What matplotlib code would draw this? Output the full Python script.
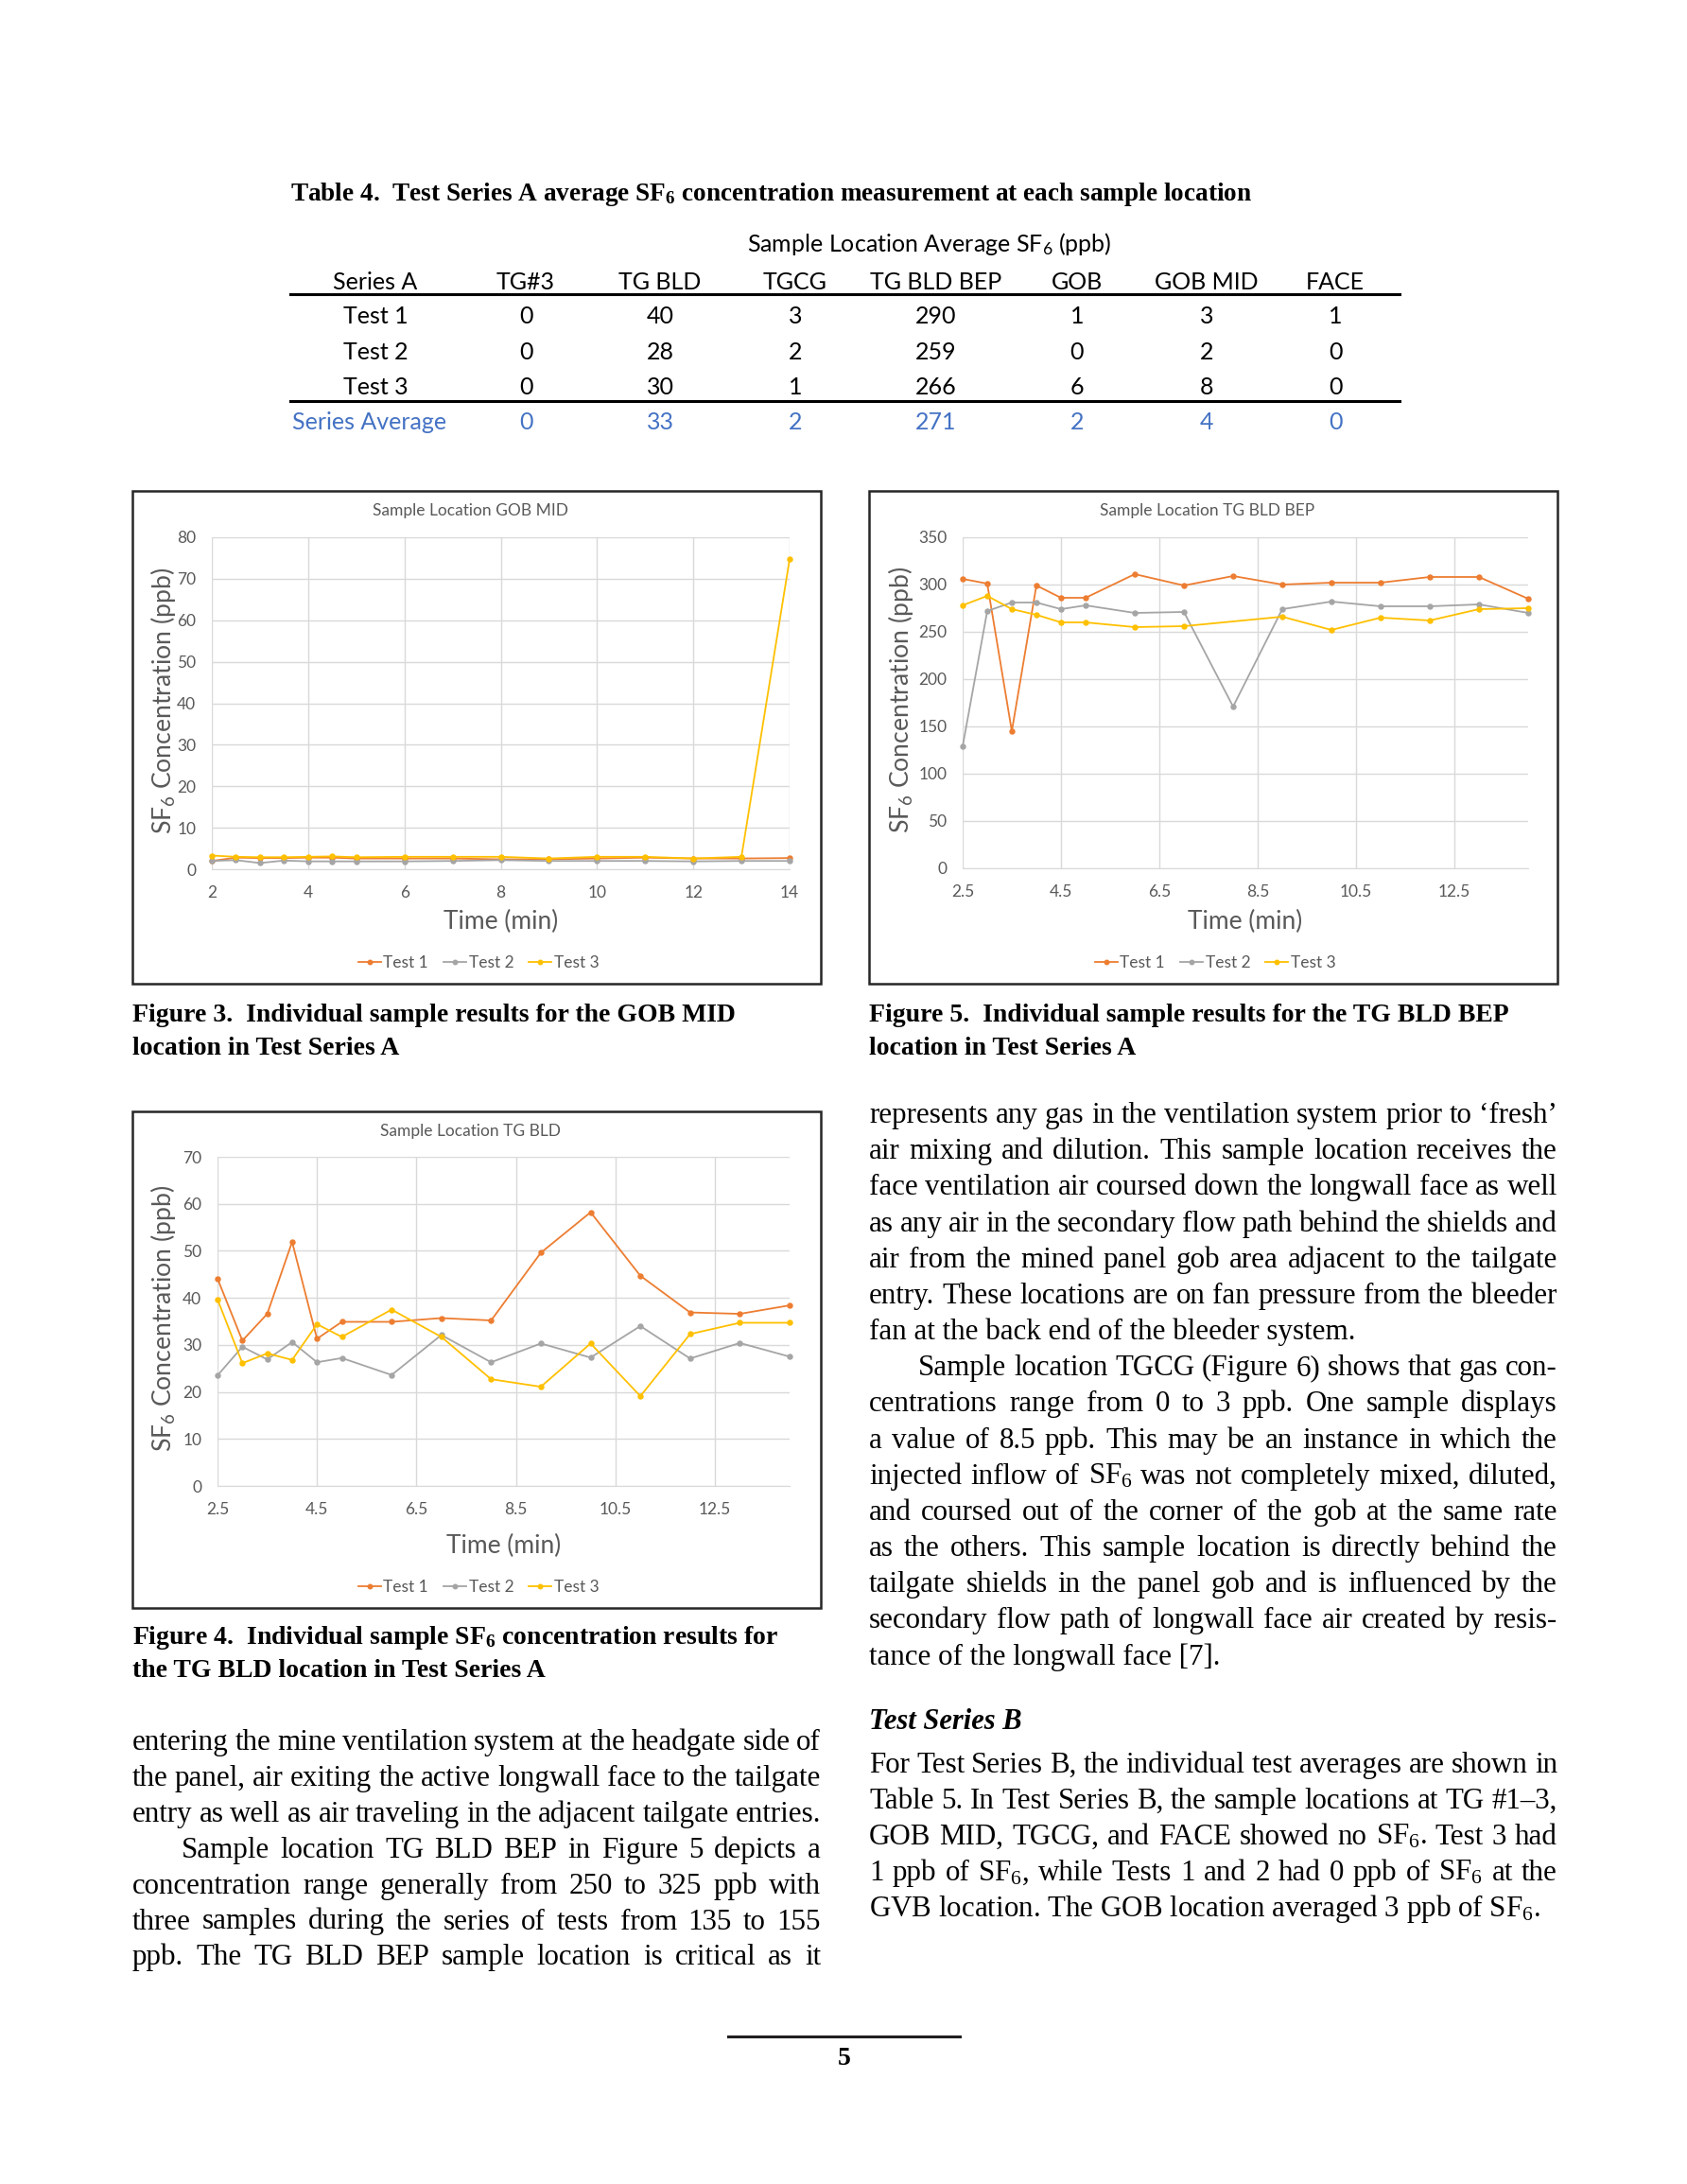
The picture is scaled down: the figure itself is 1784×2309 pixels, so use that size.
import matplotlib
matplotlib.use('Agg')
import matplotlib.pyplot as plt
from matplotlib.lines import Line2D
from matplotlib.patches import Rectangle

plt.rcParams['mathtext.fontset'] = 'custom'
plt.rcParams['mathtext.rm'] = 'Liberation Serif'

W, H = 1784, 2309
SERIF = 'Liberation Serif'
SANS = 'Lato'
GREY = '#595959'
C1, C2, C3 = '#ED7D31', '#A5A5A5', '#FFC000'

# ---- table data ----
tbl_cols = ['Series A', 'TG#3', 'TG BLD', 'TGCG', 'TG BLD BEP', 'GOB', 'GOB MID', 'FACE']
tbl_rows = ['Test 1', 'Test 2', 'Test 3']
tbl_vals = [[0, 40, 3, 290, 1, 3, 1],
            [0, 28, 2, 259, 0, 2, 0],
            [0, 30, 1, 266, 6, 8, 0]]
tbl_avg = [0, 33, 2, 271, 2, 4, 0]

# ---- GOB MID (Figure 3) ----
gob_x = [2, 2.5, 3, 3.5, 4, 4.5, 5, 6, 7, 8, 9, 10, 11, 12, 13, 14]
gob_t1 = [2.0, 2.8, 2.7, 2.7, 2.8, 2.8, 2.6, 2.6, 2.6, 2.4, 2.4, 2.6, 2.8, 2.6, 2.6, 2.7]
gob_t2 = [2.0, 2.2, 1.5, 2.1, 1.9, 1.9, 1.9, 1.9, 2.0, 2.2, 2.0, 2.0, 2.0, 1.9, 2.0, 2.0]
gob_t3 = [3.3, 3.0, 2.9, 2.9, 3.0, 3.1, 2.9, 3.0, 3.0, 3.0, 2.6, 3.0, 3.0, 2.6, 3.0, 74.7]

# ---- TG BLD BEP (Figure 5) ----
bep_x = [2.5, 3, 3.5, 4, 4.5, 5, 6, 7, 8, 9, 10, 11, 12, 13, 14]
bep_t1 = [306, 301, 145, 299, 286, 286, 311, 299, 309, 300, 302, 302, 308, 308, 285]
bep_t2 = [129, 272, 281, 281, 274, 278, 270, 271, 171, 274, 282, 277, 277, 279, 270]
bep_t3_x = [2.5, 3, 3.5, 4, 4.5, 5, 6, 7, 9, 10, 11, 12, 13, 14]
bep_t3 = [278, 288, 274, 268, 260, 260, 255, 256, 266, 252, 265, 262, 274, 275]

# ---- TG BLD (Figure 4) ----
bld_x = [2.5, 3, 3.5, 4, 4.5, 5, 6, 7, 8, 9, 10, 11, 12, 13, 14]
bld_t1 = [44.1, 30.9, 36.6, 51.9, 31.3, 34.9, 34.9, 35.7, 35.2, 49.6, 58.2, 44.7, 36.9, 36.6, 38.4]
bld_t2 = [23.5, 29.6, 26.9, 30.6, 26.3, 27.2, 23.6, 32.1, 26.3, 30.3, 27.3, 34.0, 27.1, 30.4, 27.5]
bld_t3 = [39.7, 26.1, 28.2, 26.8, 34.4, 31.7, 37.5, 31.7, 22.7, 21.1, 30.3, 19.1, 32.3, 34.7, 34.7]

fig = plt.figure(figsize=(W / 100, H / 100), dpi=100)
renderer = fig.canvas.get_renderer()


def fx(x):
    return x / W


def fy(y):
    return 1 - y / H


def txt(x, y, s, **kw):
    return fig.text(fx(x), fy(y), s, **kw)


def hline(x0, x1, y, lw=2.0, color='black'):
    fig.add_artist(Line2D([fx(x0), fx(x1)], [fy(y), fy(y)], lw=lw, color=color))


def justify(x0, x1, y, line, **kw):
    words = line.split()
    objs = [txt(x0, y, w, va='baseline', **kw) for w in words]
    widths = [o.get_window_extent(renderer).width for o in objs]
    gap = (x1 - x0 - sum(widths)) / max(len(words) - 1, 1)
    x = x0
    for o, w in zip(objs, widths):
        o.set_x(fx(x))
        x += w + gap


def paragraph(x0, x1, y0, step, lines, **kw):
    # lines: (text, indent, justified)
    for i, (s, ind, jus) in enumerate(lines):
        y = y0 + i * step
        if jus:
            justify(x0 + ind, x1, y, s, **kw)
        else:
            txt(x0 + ind, y, s, va='baseline', **kw)


# ---------------- table ----------------
txt(307, 212, r'Table 4.  Test Series A average SF$\mathregular{_6}$ concentration measurement at each sample location',
    family=SERIF, weight='bold', fontsize=19.6, va='baseline')
TFS = 18
txt(983, 258, r'Sample Location Average SF$\mathregular{_6}$ (ppb)', family=SANS, fontsize=TFS,
    ha='center', va='center')
col_x = [397, 556, 698, 841, 990, 1139, 1276, 1412]
for cx, c in zip(col_x, tbl_cols):
    txt(cx, 298, c, family=SANS, fontsize=TFS, ha='center', va='center')
hline(307, 1480, 311, lw=2.2)
for r, (name, vals) in enumerate(zip(tbl_rows, tbl_vals)):
    yy = 335 + r * 37
    txt(col_x[0], yy, name, family=SANS, fontsize=TFS, ha='center', va='center')
    for cx, v in zip(col_x[1:], vals):
        txt(cx, yy, str(v), family=SANS, fontsize=TFS, ha='center', va='center')
hline(307, 1480, 424, lw=2.2)
blue = '#4472C4'
txt(309, 446, 'Series Average', family=SANS, fontsize=TFS, ha='left', va='center', color=blue)
for cx, v in zip(col_x[1:], tbl_avg):
    txt(cx, 446, str(v), family=SANS, fontsize=TFS, ha='center', va='center', color=blue)


# ---------------- charts ----------------
def chart(box, area, title, series, xlim, xticks, xlabels, ylim, yticks):
    bx0, by0, bx1, by1 = box
    fig.add_artist(Rectangle((fx(bx0), fy(by1)), (bx1 - bx0) / W, (by1 - by0) / H,
                             transform=fig.transFigure, fill=False, ec='#262626', lw=1.8))
    px0, py0, px1, py1 = area
    ax = fig.add_axes([fx(px0), fy(py1), (px1 - px0) / W, (py1 - py0) / H])
    for xs, ys, col, lab in series:
        ax.plot(xs, ys, color=col, lw=1.3, marker='o', ms=3.6, label=lab, clip_on=False, zorder=3)
    ax.set_xlim(*xlim)
    ax.set_ylim(*ylim)
    ax.set_xticks(xticks)
    ax.set_xticklabels(xlabels)
    ax.set_yticks(yticks)
    ax.grid(True, color='#D9D9D9', lw=1.0, zorder=0)
    for sp in ['left', 'right', 'top']:
        ax.spines[sp].set_visible(False)
    ax.spines['bottom'].set_color('#D9D9D9')
    ax.tick_params(length=0, labelcolor=GREY, labelsize=12.5, pad=12)
    for lab in ax.get_xticklabels() + ax.get_yticklabels():
        lab.set_family(SANS)
    cx = (bx0 + bx1) / 2
    txt(cx - 6, by0 + 21, title, family=SANS, fontsize=12.5, color=GREY, ha='center', va='center')
    txt((px0 + px1) / 2, by1 - 66, 'Time (min)', family=SANS, fontsize=19, color=GREY,
        ha='center', va='center')
    txt(bx0 + 33, (py0 + py1) / 2 - 3, r'SF$\mathregular{_6}$ Concentration (ppb)', family=SANS,
        fontsize=19.2, color=GREY, rotation=90, ha='center', va='center')
    handles, labels = ax.get_legend_handles_labels()
    fig.legend(handles, labels, loc='center', bbox_to_anchor=(fx(cx + 2), fy(by1 - 22)),
               ncol=3, frameon=False, handlelength=1.4, handletextpad=0.15, columnspacing=0.9,
               prop={'family': SANS, 'size': 12.5}, labelcolor=GREY, markerscale=0.9)
    return ax


chart((140, 519, 868, 1040), (224, 568, 835, 919), 'Sample Location GOB MID',
      [(gob_x, gob_t1, C1, 'Test 1'), (gob_x, gob_t2, C2, 'Test 2'), (gob_x, gob_t3, C3, 'Test 3')],
      (2, 14), [2, 4, 6, 8, 10, 12, 14], ['2', '4', '6', '8', '10', '12', '14'],
      (0, 80), range(0, 81, 10))

half = [2.5, 4.5, 6.5, 8.5, 10.5, 12.5]
half_lab = ['2.5', '4.5', '6.5', '8.5', '10.5', '12.5']
chart((919, 519, 1647, 1040), (1018, 568, 1616, 918), 'Sample Location TG BLD BEP',
      [(bep_x, bep_t1, C1, 'Test 1'), (bep_x, bep_t2, C2, 'Test 2'), (bep_t3_x, bep_t3, C3, 'Test 3')],
      (2.5, 14), half, half_lab, (0, 350), range(0, 351, 50))

chart((140, 1175, 868, 1700), (230, 1223, 835, 1571), 'Sample Location TG BLD',
      [(bld_x, bld_t1, C1, 'Test 1'), (bld_x, bld_t2, C2, 'Test 2'), (bld_x, bld_t3, C3, 'Test 3')],
      (2.5, 14), half, half_lab, (0, 70), range(0, 71, 10))

# ---------------- captions ----------------
cap = dict(family=SERIF, weight='bold', fontsize=20, va='baseline')
txt(140, 1080, 'Figure 3.  Individual sample results for the GOB MID', **cap)
txt(140, 1115, 'location in Test Series A', **cap)
txt(919, 1080, 'Figure 5.  Individual sample results for the TG BLD BEP', **cap)
txt(919, 1115, 'location in Test Series A', **cap)
txt(140, 1738, r'Figure 4.  Individual sample SF$\mathregular{_6}$ concentration results for', **cap)
txt(140, 1773, 'the TG BLD location in Test Series A', **cap)

# ---------------- body text ----------------
body = dict(family=SERIF, fontsize=22.3)
IND = 52
left_lines = [
    ('entering the mine ventilation system at the headgate side of', 0, True),
    ('the panel, air exiting the active longwall face to the tailgate', 0, True),
    ('entry as well as air traveling in the adjacent tailgate entries.', 0, True),
    ('Sample location TG BLD BEP in Figure 5 depicts a', IND, True),
    ('concentration range generally from 250 to 325 ppb with', 0, True),
    ('three samples during the series of tests from 135 to 155', 0, True),
    ('ppb. The TG BLD BEP sample location is critical as it', 0, True),
]
paragraph(140, 868, 1850, 37.9, left_lines, **body)

right_lines = [
    ('represents any gas in the ventilation system prior to \u2018fresh\u2019', 0, True),
    ('air mixing and dilution. This sample location receives the', 0, True),
    ('face ventilation air coursed down the longwall face as well', 0, True),
    ('as any air in the secondary flow path behind the shields and', 0, True),
    ('air from the mined panel gob area adjacent to the tailgate', 0, True),
    ('entry. These locations are on fan pressure from the bleeder', 0, True),
    ('fan at the back end of the bleeder system.', 0, False),
    ('Sample location TGCG (Figure 6) shows that gas con-', IND, True),
    ('centrations range from 0 to 3 ppb. One sample displays', 0, True),
    ('a value of 8.5 ppb. This may be an instance in which the', 0, True),
    (r'injected inflow of SF$\mathregular{_6}$ was not completely mixed, diluted,', 0, True),
    ('and coursed out of the corner of the gob at the same rate', 0, True),
    ('as the others. This sample location is directly behind the', 0, True),
    ('tailgate shields in the panel gob and is influenced by the', 0, True),
    ('secondary flow path of longwall face air created by resis-', 0, True),
    ('tance of the longwall face [7].', 0, False),
]
paragraph(919, 1647, 1187, 38.17, right_lines, **body)

txt(919, 1828, 'Test Series B', family=SERIF, weight='bold', style='italic', fontsize=22, va='baseline')
seriesb_lines = [
    ('For Test Series B, the individual test averages are shown in', 0, True),
    ('Table 5. In Test Series B, the sample locations at TG #1\u20133,', 0, True),
    (r'GOB MID, TGCG, and FACE showed no SF$\mathregular{_6}$. Test 3 had', 0, True),
    (r'1 ppb of SF$\mathregular{_6}$, while Tests 1 and 2 had 0 ppb of SF$\mathregular{_6}$ at the', 0, True),
    (r'GVB location. The GOB location averaged 3 ppb of SF$\mathregular{_6}$.', 0, False),
]
paragraph(919, 1647, 1874, 38.0, seriesb_lines, **body)

# ---------------- page number ----------------
hline(770, 1015, 2153, lw=2.2, color='#231F20')
txt(893, 2183, '5', family=SERIF, weight='bold', fontsize=20, ha='center', va='baseline')

fig.savefig('out.png', dpi=100)
